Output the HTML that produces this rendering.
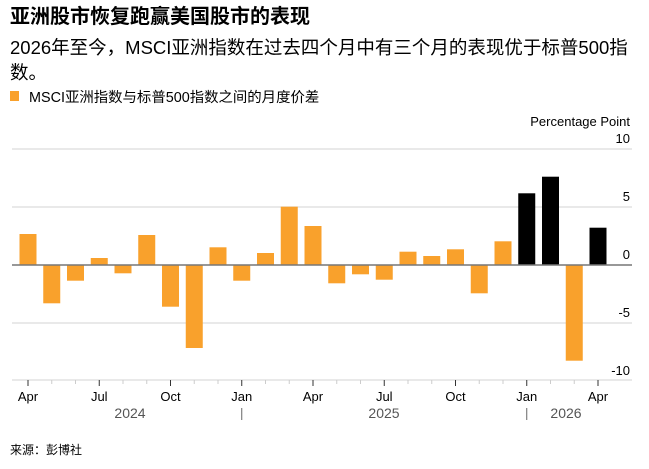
<!DOCTYPE html>
<html><head><meta charset="utf-8"><style>
body{margin:0;background:#fff;width:649px;height:469px;overflow:hidden}
svg{display:block}
text{font-family:"Liberation Sans","Noto Sans CJK SC",sans-serif}
</style></head><body>
<svg width="649" height="469" viewBox="0 0 649 469">
<text x="10" y="23" font-size="20" font-weight="bold" fill="#000">亚洲股市恢复跑赢美国股市的表现</text>
<text x="10" y="54" font-size="18.5" fill="#000">2026年至今，MSCI亚洲指数在过去四个月中有三个月的表现优于标普500指</text>
<text x="10" y="79" font-size="18.5" fill="#000">数。</text>
<rect x="10" y="91" width="9" height="10" fill="#f9a12c"/>
<text x="29" y="102" font-size="14.4" fill="#000">MSCI亚洲指数与标普500指数之间的月度价差</text>
<text x="630" y="126" font-size="13" text-anchor="end" fill="#000">Percentage Point</text>
<g font-size="13" text-anchor="end" fill="#000">
<text x="630" y="143">10</text><text x="630" y="201">5</text><text x="630" y="259">0</text><text x="630" y="317">-5</text><text x="630" y="375">-10</text>
</g>
<g stroke="#e2e2e2" stroke-width="1.5">
<line x1="12" y1="149" x2="632" y2="149"/><line x1="12" y1="207" x2="632" y2="207"/><line x1="12" y1="323" x2="632" y2="323"/><line x1="12" y1="380" x2="632" y2="380"/>
</g>
<g fill="#f9a12c">
<rect x="19.5" y="234" width="17" height="31"/>
<rect x="43.25" y="265" width="17" height="38.3"/>
<rect x="67" y="265" width="17" height="15.7"/>
<rect x="90.75" y="258" width="17" height="7"/>
<rect x="114.5" y="265" width="17" height="8.3"/>
<rect x="138.25" y="235" width="17" height="30"/>
<rect x="162" y="265" width="17" height="41.7"/>
<rect x="185.75" y="265" width="17" height="83"/>
<rect x="209.5" y="247.3" width="17" height="17.7"/>
<rect x="233.25" y="265" width="17" height="15.7"/>
<rect x="257" y="253" width="17" height="12"/>
<rect x="280.75" y="206.7" width="17" height="58.3"/>
<rect x="304.5" y="226" width="17" height="39"/>
<rect x="328.25" y="265" width="17" height="18.3"/>
<rect x="352" y="265" width="17" height="9.3"/>
<rect x="375.75" y="265" width="17" height="14.7"/>
<rect x="399.5" y="251.7" width="17" height="13.3"/>
<rect x="423.25" y="256" width="17" height="9"/>
<rect x="447" y="249.3" width="17" height="15.7"/>
<rect x="470.75" y="265" width="17" height="28.3"/>
<rect x="494.5" y="241.3" width="17" height="23.7"/>
<rect x="565.75" y="265" width="17" height="95.7"/>
</g>
<g fill="#000">
<rect x="518.25" y="193.3" width="17" height="71.7"/>
<rect x="542" y="176.7" width="17" height="88.3"/>
<rect x="589.5" y="227.7" width="17" height="37.3"/>
</g>
<line x1="12" y1="265" x2="632" y2="265" stroke="#777" stroke-width="1.5"/>
<g stroke="#ccc" stroke-width="1">
<line x1="51.75" y1="380" x2="51.75" y2="384"/><line x1="75.5" y1="380" x2="75.5" y2="384"/>
<line x1="123" y1="380" x2="123" y2="384"/><line x1="146.75" y1="380" x2="146.75" y2="384"/>
<line x1="194.25" y1="380" x2="194.25" y2="384"/><line x1="218" y1="380" x2="218" y2="384"/>
<line x1="265.5" y1="380" x2="265.5" y2="384"/><line x1="289.25" y1="380" x2="289.25" y2="384"/>
<line x1="336.75" y1="380" x2="336.75" y2="384"/><line x1="360.5" y1="380" x2="360.5" y2="384"/>
<line x1="408" y1="380" x2="408" y2="384"/><line x1="431.75" y1="380" x2="431.75" y2="384"/>
<line x1="479.25" y1="380" x2="479.25" y2="384"/><line x1="503" y1="380" x2="503" y2="384"/>
<line x1="550.5" y1="380" x2="550.5" y2="384"/><line x1="574.25" y1="380" x2="574.25" y2="384"/>
</g>
<g stroke="#333" stroke-width="1">
<line x1="28" y1="380" x2="28" y2="386"/><line x1="99.25" y1="380" x2="99.25" y2="386"/>
<line x1="170.5" y1="380" x2="170.5" y2="386"/><line x1="241.75" y1="380" x2="241.75" y2="386"/>
<line x1="313" y1="380" x2="313" y2="386"/><line x1="384.25" y1="380" x2="384.25" y2="386"/>
<line x1="455.5" y1="380" x2="455.5" y2="386"/><line x1="526.75" y1="380" x2="526.75" y2="386"/>
<line x1="598" y1="380" x2="598" y2="386"/>
<line x1="241.75" y1="408" x2="241.75" y2="420" stroke="#666"/>
<line x1="526.75" y1="408" x2="526.75" y2="420" stroke="#666"/>
</g>
<g font-size="13" text-anchor="middle" fill="#000">
<text x="28" y="401">Apr</text><text x="99.25" y="401">Jul</text><text x="170.5" y="401">Oct</text>
<text x="241.75" y="401">Jan</text><text x="313" y="401">Apr</text><text x="384.25" y="401">Jul</text>
<text x="455.5" y="401">Oct</text><text x="526.75" y="401">Jan</text><text x="598" y="401">Apr</text>
</g>
<g font-size="14" text-anchor="middle" fill="#555">
<text x="130" y="418">2024</text><text x="384" y="418">2025</text><text x="566" y="418">2026</text>
</g>
<text x="10" y="454" font-size="12" fill="#000">来源：彭博社</text>
</svg>
</body></html>
